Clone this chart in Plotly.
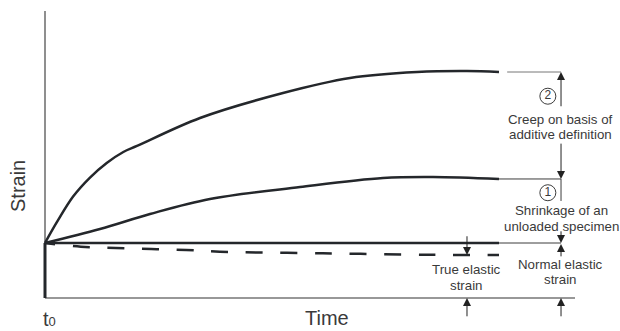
import plotly.graph_objects as go

# ---------------- data (time in arbitrary units, strain in units of elastic strain) ----
elastic_strain = 1.0
t_end = 10.0

# upper curve: total strain under load
time_upper = [0.0, 0.258, 0.623, 0.991, 1.359, 1.725, 2.026, 3.414, 5.242, 6.718, 8.194, 9.295, 10.0]
strain_upper = [1.0, 1.374, 1.849, 2.19, 2.455, 2.655, 2.764, 3.273, 3.727, 4.0, 4.109, 4.127, 4.109]

# middle curve: shrinkage of an unloaded specimen (plus elastic)
time_middle = [0.0, 1.211, 2.313, 3.634, 5.617, 7.445, 8.546, 10.0]
strain_middle = [1.0, 1.255, 1.527, 1.80, 2.018, 2.182, 2.20, 2.164]

# dashed curve: true elastic strain
time_dashed = [0.0, 0.79, 1.56, 2.34, 3.11, 3.85, 6.12, 8.44, 10.0]
strain_dashed = [1.0, 0.933, 0.909, 0.891, 0.873, 0.842, 0.813, 0.787, 0.782]

# axis extents
x_axis_end = 11.674
y_axis_end = 5.218

# dimension line positions
dim_x = 11.366     # right dimension line
true_x = 9.295     # "true elastic strain" dimension line

INK = "#24272b"
TXT = "#3a3a3a"
THIN = "#3c3c3c"
FONT = "Liberation Sans, Arial, sans-serif"

fig = go.Figure()

def line(x, y, width=1.0, color=THIN, dash="solid", shape="linear"):
    fig.add_trace(go.Scatter(x=x, y=y, mode="lines", hoverinfo="skip",
                             line=dict(color=color, width=width, dash=dash, shape=shape),
                             showlegend=False))

# axes
line([0, 0], [0, y_axis_end], 1.1, "#333333")
line([0, x_axis_end], [0, 0], 1.1, "#333333")

# elastic jump at t0
line([0, 0], [0, elastic_strain], 3.0, INK)

# elastic level
line([0, t_end], [elastic_strain, elastic_strain], 2.6, INK)

# curves
line(time_upper, strain_upper, 2.5, INK, shape="spline")
line(time_middle, strain_middle, 2.5, INK, shape="spline")
dash_pat = "10px,18px," + ",".join(["17px,17.6px"] * 14)
line(time_dashed, strain_dashed, 2.5, INK, dash=dash_pat, shape="spline")

# extension lines
line([t_end + 0.18, dim_x], [strain_upper[-1]] * 2, 1.0, "#777777")
line([t_end, dim_x], [strain_middle[-1]] * 2, 1.0, THIN)
line([t_end, dim_x], [elastic_strain] * 2, 1.0, THIN)

# plain piece of dimension line below creep arrow
line([dim_x, dim_x], [strain_middle[-1], strain_middle[-1] - 0.40], 1.0, THIN)

# numbered circles
fig.add_trace(go.Scatter(
    x=[dim_x - 0.29, dim_x - 0.29],
    y=[strain_upper[-1] - 0.44, strain_middle[-1] - 0.25],
    mode="markers+text", text=["2", "1"], textposition="middle center",
    textfont=dict(family=FONT, size=12, color=TXT),
    marker=dict(symbol="circle-open", size=16, color=THIN, line=dict(width=1, color=THIN)),
    hoverinfo="skip", showlegend=False, cliponaxis=False))

ann = []

def arrow(x, tip, tail):
    ann.append(dict(x=x, y=tip, ax=x, ay=tail, xref="x", yref="y", axref="x", ayref="y",
                    showarrow=True, arrowhead=2, arrowsize=1.6, arrowwidth=1,
                    arrowcolor="#222222", standoff=0, startstandoff=0, text=""))

# creep dimension
arrow(dim_x, strain_upper[-1], strain_upper[-1] - 0.65)
arrow(dim_x, strain_middle[-1], strain_middle[-1] + 0.67)
# shrinkage / normal elastic
arrow(dim_x, elastic_strain, elastic_strain + 0.24)
arrow(dim_x, elastic_strain - 0.02, elastic_strain - 0.27)
arrow(dim_x, 0, -0.36)
# true elastic
arrow(true_x, strain_dashed[-1], elastic_strain + 0.15)
arrow(true_x, 0, -0.36)

def text(x, y, s, size=13.3, **kw):
    ann.append(dict(x=x, y=y, xref="x", yref="y", text=s, showarrow=False,
                    font=dict(family=FONT, size=size, color=TXT),
                    xanchor="center", yanchor="middle", **kw))

text(dim_x - 0.02, 3.245, "Creep on basis of")
text(dim_x - 0.02, 2.973, "additive definition")
text(dim_x, 1.582, "Shrinkage of an")
text(dim_x, 1.309, "unloaded specimen")
text(true_x, 0.527, "True elastic")
text(true_x, 0.236, "strain")
text(dim_x - 0.02, 0.618, "Normal elastic")
text(dim_x - 0.02, 0.345, "strain")

text(6.211, -0.364, "Time", size=20)
text(0.11, -0.38, "t<span style='font-size:13px'>0</span>", size=20)
text(-0.595, 2.036, "Strain", size=20, textangle=-90)

fig.update_layout(
    width=620, height=331,
    margin=dict(l=0, r=0, t=0, b=0),
    paper_bgcolor="white", plot_bgcolor="white",
    xaxis=dict(range=[-0.9912, 12.6652], visible=False, fixedrange=True),
    yaxis=dict(range=[-0.6, 5.4182], visible=False, fixedrange=True),
    annotations=ann,
    showlegend=False,
)

fig.write_html("out.html",
               config={"displayModeBar": False, "staticPlot": True},
               post_script="document.body.style.margin='0';document.body.style.overflow='hidden';")
